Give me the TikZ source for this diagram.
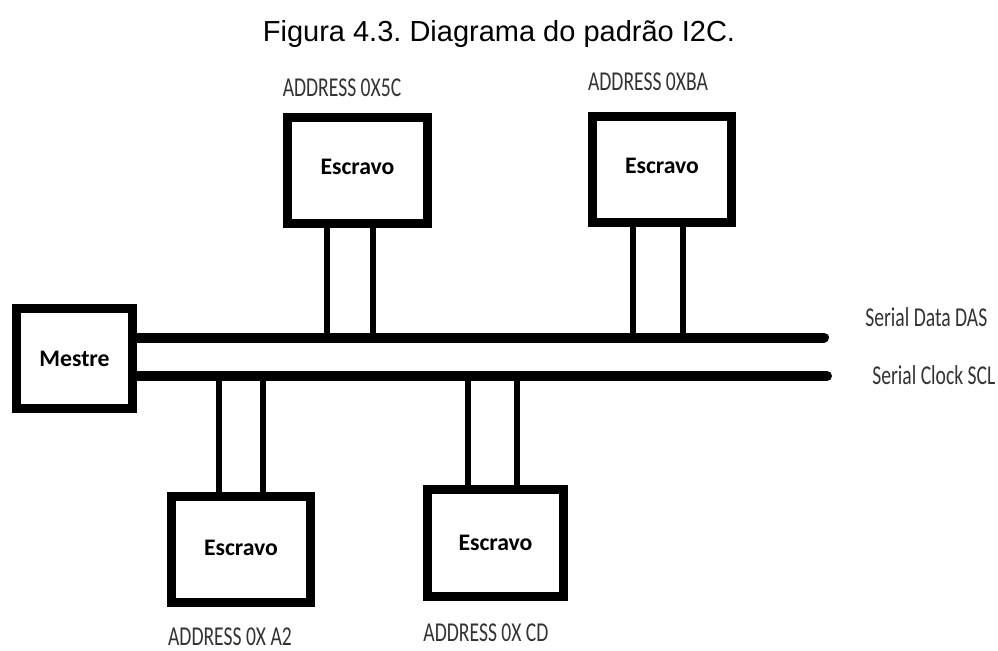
\documentclass[tikz,border=0pt]{standalone}
\usepackage{fontspec}
\setmainfont{Liberation Sans}
\newfontfamily\boxfont{Carlito}
\newfontfamily\addrfont[FakeStretch=0.72]{Carlito}
\usepackage{tikz}
\frenchspacing

\begin{document}
\begin{tikzpicture}[x=0.02cm, y=-0.02cm,
        unit/.style = {draw, rectangle, line width=0.18cm, inner sep=0pt,
            minimum width=2.78cm, minimum height=2.12cm,
            font=\boxfont\fontsize{13.5}{15}\selectfont\bfseries},
        addr/.style = {inner sep=0pt, text=black!80,
            font=\addrfont\fontsize{15.5}{17}\selectfont},
        bus/.style = {line width=0.2cm, line cap=round},
        leg/.style = {line width=0.12cm}]
    \useasboundingbox (0,0) rectangle (998,650);

    \node (title) at (499,34) {\fontsize{16.5}{19}\selectfont Figura 4.3. Diagrama do padrão I2C.};

    % master and slaves
    \node[unit, minimum width=2.32cm, minimum height=2.0cm] (m) at (74.5,358.5) {Mestre};
    \node[unit, minimum width=2.8cm] (s1) at (357.5,170.5) {\raisebox{4pt}{Escravo}};
    \node[unit] (s2) at (662,169.5) {\raisebox{4pt}{Escravo}};
    \node[unit] (s3) at (241,549.5) {\raisebox{2pt}{Escravo}};
    \node[unit, minimum width=2.72cm, minimum height=2.14cm] (s4) at (495.5,543) {\raisebox{-3pt}{Escravo}};

    % addresses
    \node[addr] (a1) at (342,88) {ADDRESS 0X5C};
    \node[addr] (a2) at (648,82) {ADDRESS 0XBA};
    \node[addr] (a3) at (230,637) {ADDRESS 0X A2};
    \node[addr] (a4) at (486,633) {ADDRESS 0X CD};

    % bus lines
    \coordinate (sda) at (824,337.5);
    \coordinate (scl) at (827,376);
    \node[addr, anchor=west] (lsda) at (865,317) {Serial Data DAS};
    \node[addr, anchor=west] (lscl) at (872,375) {Serial Clock SCL};
    \draw[bus] (m.east |- sda) -- (sda);
    \draw[bus] (m.east |- scl) -- (scl);

    % legs to the bus
    \coordinate (d1) at (327,337.5);
    \coordinate (d2) at (373,337.5);
    \coordinate (d3) at (633,337.5);
    \coordinate (d4) at (683,337.5);
    \coordinate (c1) at (219,376);
    \coordinate (c2) at (263,376);
    \coordinate (c3) at (468,376);
    \coordinate (c4) at (517,376);
    \draw[leg] (s1.south -| d1) -- (d1);
    \draw[leg] (s1.south -| d2) -- (d2);
    \draw[leg] (s2.south -| d3) -- (d3);
    \draw[leg] (s2.south -| d4) -- (d4);
    \draw[leg] (c1) -- (s3.north -| c1);
    \draw[leg] (c2) -- (s3.north -| c2);
    \draw[leg] (c3) -- (s4.north -| c3);
    \draw[leg] (c4) -- (s4.north -| c4);
\end{tikzpicture}
\end{document}
